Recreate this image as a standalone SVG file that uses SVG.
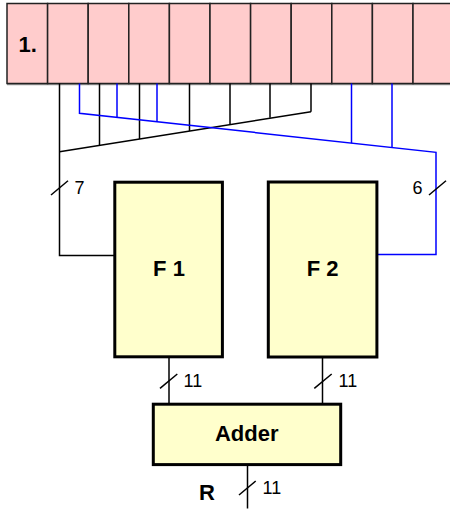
<svg xmlns="http://www.w3.org/2000/svg" width="450" height="512" viewBox="0 0 450 512">
  <style>
    .cell { fill: #ffcccc; stroke: #222; stroke-width: 1.5; }
    .box { fill: #ffffcc; stroke: #000; stroke-width: 3; }
    .wk { fill: none; stroke: #000; stroke-width: 1.5; }
    .wb { fill: none; stroke: #0000ff; stroke-width: 1.5; }
    .big { font-family: "Liberation Sans", Arial, sans-serif; font-weight: bold; font-size: 22px; fill: #000; }
    .num { font-family: "Liberation Sans", Arial, sans-serif; font-size: 18px; fill: #000; }
  </style>

  <!-- register row -->
  <g id="register">
    <rect x="7" y="3.5" width="460" height="80" fill="#ffcccc" stroke="none"/>
    <line x1="7" y1="84.5" x2="450" y2="84.5" stroke="#999" stroke-width="1.5"/>
    <g class="cell">
      <rect x="7" y="3.5" width="40.6" height="80"/>
      <rect x="47.6" y="3.5" width="40.6" height="80"/>
      <rect x="88.2" y="3.5" width="40.6" height="80"/>
      <rect x="128.8" y="3.5" width="40.6" height="80"/>
      <rect x="169.4" y="3.5" width="40.6" height="80"/>
      <rect x="210" y="3.5" width="40.6" height="80"/>
      <rect x="250.6" y="3.5" width="40.6" height="80"/>
      <rect x="291.2" y="3.5" width="40.6" height="80"/>
      <rect x="331.8" y="3.5" width="40.6" height="80"/>
      <rect x="372.4" y="3.5" width="40.6" height="80"/>
      <rect x="413" y="3.5" width="40.6" height="80"/>
    </g>
    <text class="big" x="18.5" y="51.5">1.</text>
  </g>

  <!-- wiring -->
  <g id="connectors">
    <!-- 7 bits to F1 -->
    <polyline class="wk" points="59.5,83.5 59.5,255.5 114,255.5"/>
    <line class="wk" x1="59.5" y1="151.7" x2="311" y2="111.7"/>
    <line class="wk" x1="99.5" y1="83.5" x2="99.5" y2="145.3"/>
    <line class="wk" x1="139.5" y1="83.5" x2="139.5" y2="139"/>
    <line class="wk" x1="189.5" y1="83.5" x2="189.5" y2="131"/>
    <line class="wk" x1="230" y1="83.5" x2="230" y2="124.2"/>
    <line class="wk" x1="270" y1="83.5" x2="270" y2="117.8"/>
    <line class="wk" x1="311" y1="83.5" x2="311" y2="111.7"/>

    <!-- 6 bits to F2 -->
    <polyline class="wb" points="79.5,83.5 79.5,113.3 436,152.3 436,254.5 378,254.5"/>
    <line class="wb" x1="117" y1="83.5" x2="117" y2="117.5"/>
    <line class="wb" x1="157" y1="83.5" x2="157" y2="121.9"/>
    <line class="wb" x1="351.5" y1="83.5" x2="351.5" y2="143.1"/>
    <line class="wb" x1="392" y1="83.5" x2="392" y2="147.5"/>

    <!-- bus widths -->
    <line class="wk" x1="51" y1="195" x2="68" y2="180.7"/>
    <line class="wk" x1="429" y1="195" x2="446" y2="180.7"/>

    <!-- function outputs -->
    <line class="wk" x1="169" y1="358" x2="169" y2="403"/>
    <line class="wk" x1="322.5" y1="358" x2="322.5" y2="403"/>
    <line class="wk" x1="160" y1="388.3" x2="177.3" y2="374"/>
    <line class="wk" x1="314.3" y1="388.3" x2="331.7" y2="374"/>

    <!-- adder output -->
    <line class="wk" x1="247.5" y1="466" x2="247.5" y2="508.5"/>
    <line class="wk" x1="239" y1="495" x2="255.7" y2="481"/>
  </g>

  <g id="labels">
    <text class="num" x="74.5" y="194">7</text>
    <text class="num" x="412.5" y="194">6</text>
    <text class="num" x="183.5" y="386.7">11</text>
    <text class="num" x="338.5" y="386.7">11</text>
    <text class="num" x="262.5" y="494">11</text>
    <text class="big" x="199" y="500">R</text>
  </g>

  <g id="f1">
    <rect class="box" x="114.8" y="182.2" width="107.6" height="174.6"/>
    <text class="big" x="169" y="276" text-anchor="middle">F 1</text>
  </g>

  <g id="f2">
    <rect class="box" x="268.3" y="182" width="108.6" height="175"/>
    <text class="big" x="322.7" y="276" text-anchor="middle">F 2</text>
  </g>

  <g id="adder">
    <rect class="box" x="153.3" y="404.2" width="187.4" height="60.4"/>
    <text class="big" x="246.7" y="440.5" text-anchor="middle">Adder</text>
  </g>
</svg>
